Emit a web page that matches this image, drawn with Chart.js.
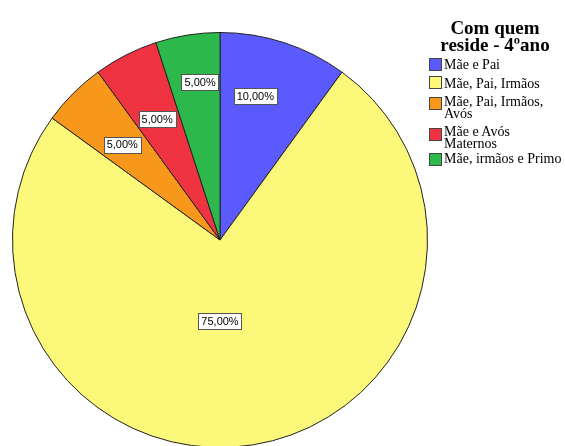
<!DOCTYPE html>
<html>
<head>
<meta charset="utf-8">
<script src="https://cdn.jsdelivr.net/npm/chart.js@4/dist/chart.umd.min.js"></script>
<style>
  html, body { margin: 0; padding: 0; background: #fff; overflow: hidden; width: 565px; height: 446px; }
  #wrap { position: absolute; left: 0; top: 0; width: 565px; height: 460px; }
  #legend { position: absolute; left: 0; top: 0; width: 565px; height: 446px; font-family: "Liberation Serif", "Times New Roman", serif; color: #000; pointer-events: none; }
  #legend .title { position: absolute; left: 424px; top: 19px; width: 142px; font-weight: bold; font-size: 19px; line-height: 17px; text-align: center; }
  #legend .item { position: absolute; left: 444px; font-size: 14px; line-height: 12.5px; white-space: nowrap; }
  #legend .box { position: absolute; left: 429px; width: 11px; height: 11px; border: 1px solid #444; }
</style>
</head>
<body>
<div id="wrap"><canvas id="c" width="565" height="460"></canvas></div>
<div id="legend"></div>
<script>
const legendTitle = ["Com quem", "reside - 4ºano"];
const categories = ["Mãe e Pai", "Mãe, Pai, Irmãos", "Mãe, Pai, Irmãos, Avós", "Mãe e Avós Maternos", "Mãe, irmãos e Primo"];
const legendLines = [["Mãe e Pai"], ["Mãe, Pai, Irmãos"], ["Mãe, Pai, Irmãos,", "Avós"], ["Mãe e Avós", "Maternos"], ["Mãe, irmãos e Primo"]];
const percentages = [10, 75, 5, 5, 5];
const colors = ["#5a5aff", "#fbf87a", "#f7981d", "#ef3340", "#2db84b"];

// legend layout (pixel positions of each entry)
const itemTops = [59, 77.5, 95.5, 125.5, 153];
const boxTops = [58, 76, 97, 128, 153];

const lg = document.getElementById('legend');
let html = '<div class="title">' + legendTitle.join('<br>') + '</div>';
legendLines.forEach((lines, i) => {
  html += '<span class="box" style="top:' + boxTops[i] + 'px;background:' + colors[i] + '"></span>';
  html += '<div class="item" style="top:' + itemTops[i] + 'px">' + lines.join('<br>') + '</div>';
});
lg.innerHTML = html;

const labelPlugin = {
  id: 'boxLabels',
  afterDatasetsDraw(chart, args, opts) {
    const ctx = chart.ctx;
    const meta = chart.getDatasetMeta(0);
    ctx.save();
    ctx.font = '11px "Liberation Sans", Arial, sans-serif';
    ctx.textAlign = 'center';
    ctx.textBaseline = 'middle';
    meta.data.forEach((arc, i) => {
      const p = arc.getProps(['x', 'y', 'startAngle', 'endAngle', 'outerRadius'], true);
      const place = opts.place[i];
      const ang = place.angle !== undefined ? (place.angle - 90) * Math.PI / 180 : (p.startAngle + p.endAngle) / 2;
      const r = p.outerRadius * place.frac;
      const cx = p.x + Math.cos(ang) * r;
      const cy = p.y + Math.sin(ang) * r;
      const txt = percentages[i].toFixed(2).replace('.', ',') + '%';
      const w = ctx.measureText(txt).width + 6;
      const h = 16;
      ctx.fillStyle = '#fff';
      ctx.fillRect(Math.round(cx - w / 2) + 0.5, Math.round(cy - h / 2) + 0.5, Math.round(w), h);
      ctx.strokeStyle = '#555';
      ctx.lineWidth = 1;
      ctx.strokeRect(Math.round(cx - w / 2) + 0.5, Math.round(cy - h / 2) + 0.5, Math.round(w), h);
      ctx.fillStyle = '#000';
      ctx.fillText(txt, cx, cy + 0.5);
    });
    ctx.restore();
  }
};

new Chart(document.getElementById('c'), {
  type: 'pie',
  data: {
    labels: categories,
    datasets: [{
      data: percentages,
      backgroundColor: colors,
      borderColor: '#222',
      borderWidth: 1,
      hoverOffset: 0
    }]
  },
  options: {
    responsive: false,
    animation: false,
    layout: { padding: { left: 12, right: 137, top: 32, bottom: 12 } },
    plugins: {
      legend: { display: false },
      tooltip: { enabled: false },
      boxLabels: {
        place: [
          { angle: 13.8, frac: 0.714 },
          { angle: 180, frac: 0.392 },
          { angle: -45.7, frac: 0.658 },
          { angle: -27.5, frac: 0.656 },
          { angle: -7.2, frac: 0.766 }
        ]
      }
    }
  },
  plugins: [labelPlugin]
});
</script>
</body>
</html>
